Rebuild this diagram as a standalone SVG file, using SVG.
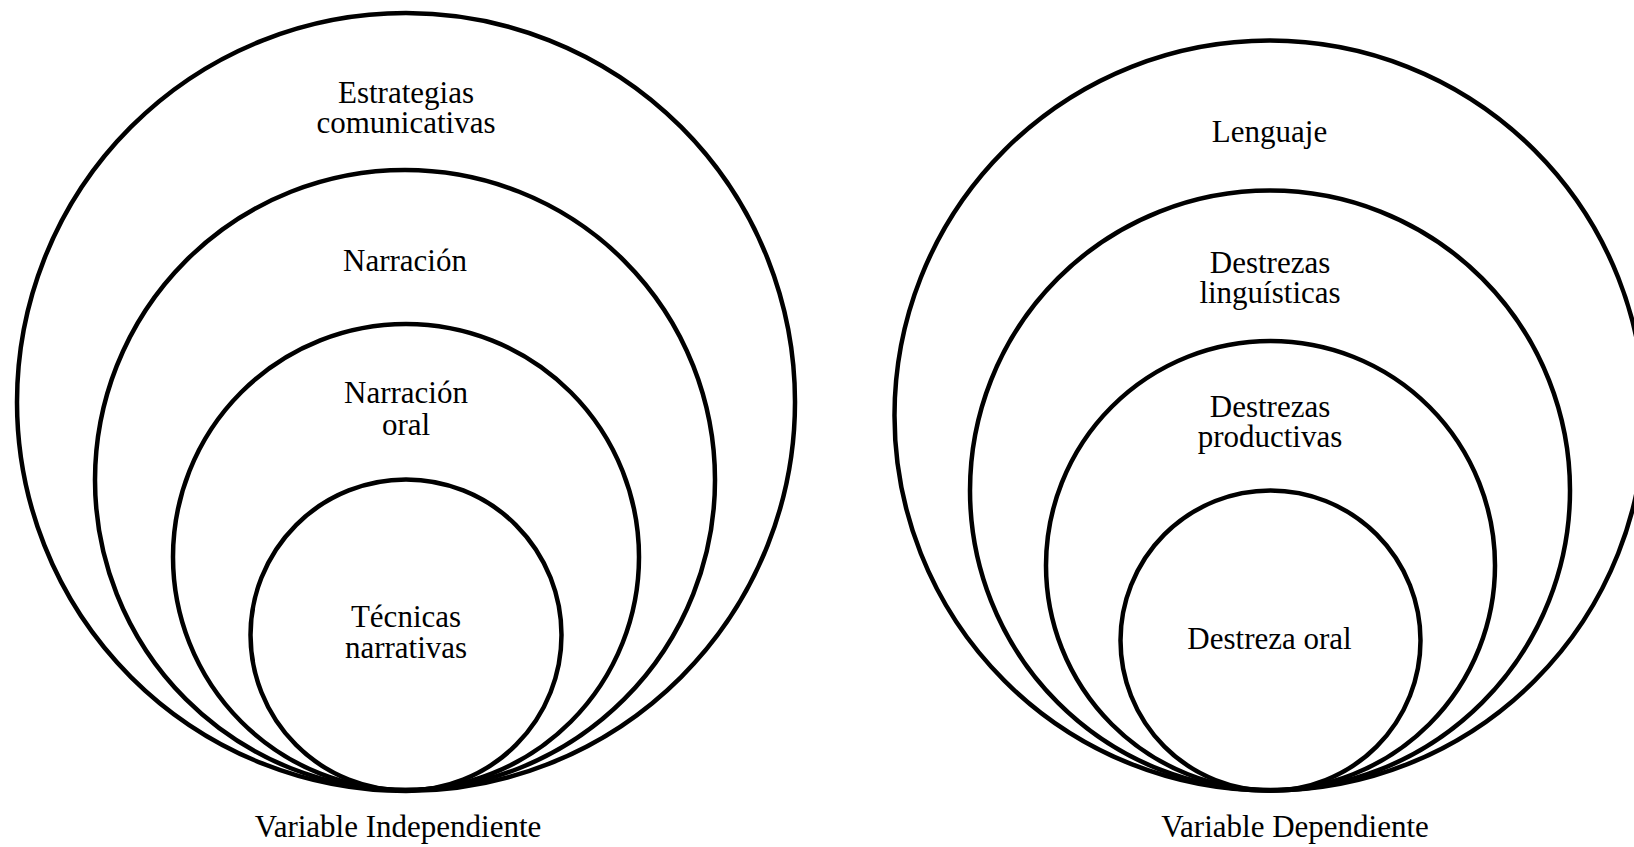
<svg xmlns="http://www.w3.org/2000/svg" width="1634" height="847" viewBox="0 0 1634 847">
<style>
.c{fill:none;stroke:#000;stroke-width:4.5}
.t{font-family:"Liberation Serif","Times New Roman",serif;font-size:31px;fill:#000;text-anchor:middle}
</style>
<rect width="1634" height="847" fill="#fff"/>
<g id="left">
<g id="n-estrategias"><circle class="c" cx="406" cy="402" r="389"/><text class="t" x="406" y="103">Estrategias</text><text class="t" x="406" y="133">comunicativas</text></g>
<g id="n-narracion"><circle class="c" cx="405" cy="480" r="310"/><text class="t" x="405" y="271">Narración</text></g>
<g id="n-narracion-oral"><circle class="c" cx="406" cy="557" r="233"/><text class="t" x="406" y="403">Narración</text><text class="t" x="406" y="435">oral</text></g>
<g id="n-tecnicas"><circle class="c" cx="406" cy="635" r="155.5"/><text class="t" x="406" y="627">Técnicas</text><text class="t" x="406" y="658">narrativas</text></g>
<text class="t" x="398" y="837">Variable Independiente</text>
</g>
<g id="right">
<g id="n-lenguaje"><circle class="c" cx="1269.5" cy="415.5" r="375"/><text class="t" x="1269.5" y="142">Lenguaje</text></g>
<g id="n-linguisticas"><circle class="c" cx="1270" cy="490.5" r="300"/><text class="t" x="1270" y="273">Destrezas</text><text class="t" x="1270" y="303">linguísticas</text></g>
<g id="n-productivas"><circle class="c" cx="1270.5" cy="565.5" r="224.5"/><text class="t" x="1270" y="417">Destrezas</text><text class="t" x="1270" y="447">productivas</text></g>
<g id="n-oral"><circle class="c" cx="1270.5" cy="640.5" r="150"/><text class="t" x="1269.5" y="649">Destreza oral</text></g>
<text class="t" x="1295" y="837">Variable Dependiente</text>
</g>
<g id="connectors"/>
</svg>
